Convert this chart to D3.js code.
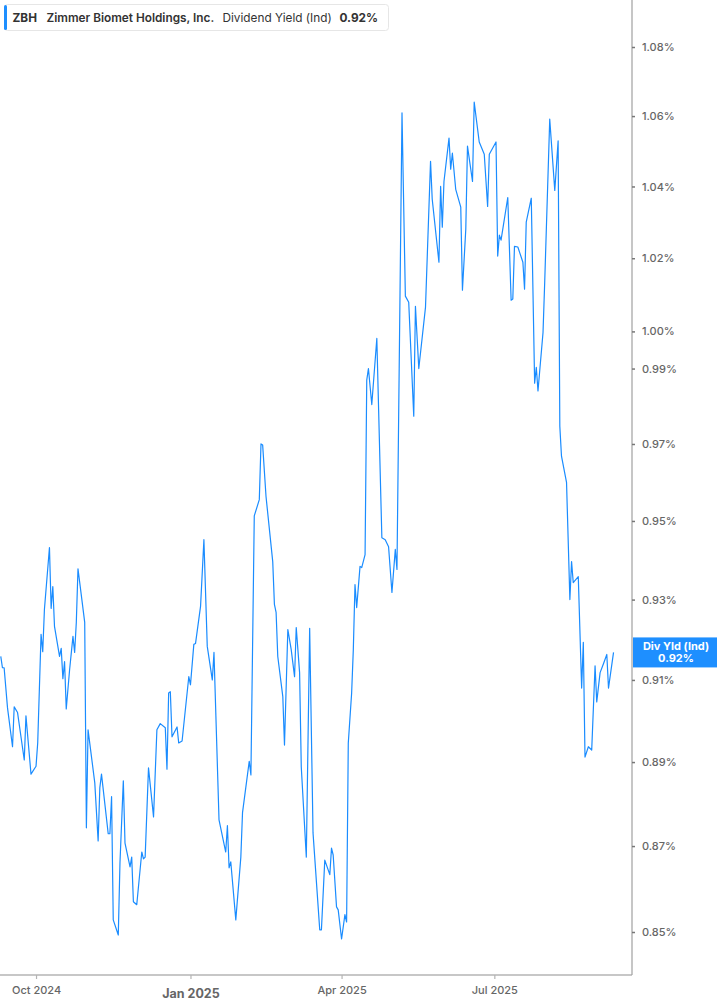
<!DOCTYPE html>
<html>
<head>
<meta charset="utf-8">
<script src="https://cdn.jsdelivr.net/npm/d3@7"></script>
<style>
  html, body { margin: 0; padding: 0; background: #fff; }
  svg { display: block; font-family: Inter, "Noto Sans", sans-serif; }
</style>
</head>
<body>
<div id="viz"></div>
<script>
// ZBH dividend yield (indicated)
var dates = [
  "2024-09-10","2024-09-11","2024-09-12","2024-09-14","2024-09-17","2024-09-18","2024-09-20","2024-09-24","2024-09-25","2024-09-28",
  "2024-10-01","2024-10-02","2024-10-04","2024-10-05","2024-10-06","2024-10-09","2024-10-10","2024-10-11","2024-10-12","2024-10-15",
  "2024-10-16","2024-10-17","2024-10-18","2024-10-19","2024-10-21","2024-10-23","2024-10-24","2024-10-25","2024-10-26","2024-10-30",
  "2024-10-31","2024-11-01","2024-11-05","2024-11-07","2024-11-08","2024-11-09","2024-11-13","2024-11-14","2024-11-15","2024-11-16",
  "2024-11-19","2024-11-20","2024-11-22","2024-11-23","2024-11-26","2024-11-27","2024-11-28","2024-11-30","2024-12-03","2024-12-04",
  "2024-12-05","2024-12-07","2024-12-10","2024-12-12","2024-12-14","2024-12-17","2024-12-18","2024-12-19","2024-12-20","2024-12-21",
  "2024-12-24","2024-12-25","2024-12-27","2024-12-31","2025-01-01","2025-01-03","2025-01-04","2025-01-07","2025-01-09","2025-01-11",
  "2025-01-14","2025-01-15","2025-01-18","2025-01-22","2025-01-23","2025-01-24","2025-01-25","2025-01-28","2025-01-31","2025-02-01",
  "2025-02-05","2025-02-06","2025-02-08","2025-02-11","2025-02-12","2025-02-13","2025-02-15","2025-02-19","2025-02-20","2025-02-21",
  "2025-02-22","2025-02-25","2025-02-26","2025-02-28","2025-03-02","2025-03-04","2025-03-05","2025-03-07","2025-03-08","2025-03-11",
  "2025-03-13","2025-03-15","2025-03-19","2025-03-20","2025-03-22","2025-03-25","2025-03-26","2025-03-27","2025-03-29","2025-03-30",
  "2025-04-01","2025-04-03","2025-04-04","2025-04-05","2025-04-07","2025-04-08","2025-04-09","2025-04-10","2025-04-12","2025-04-13",
  "2025-04-15","2025-04-16","2025-04-17","2025-04-19","2025-04-22","2025-04-25","2025-04-27","2025-04-29","2025-05-01","2025-05-03",
  "2025-05-04","2025-05-07","2025-05-09","2025-05-11","2025-05-14","2025-05-15","2025-05-17","2025-05-21","2025-05-24","2025-05-25",
  "2025-05-29","2025-05-30","2025-05-31","2025-06-01","2025-06-04","2025-06-05","2025-06-06","2025-06-08","2025-06-11","2025-06-12",
  "2025-06-14","2025-06-15","2025-06-18","2025-06-19","2025-06-22","2025-06-25","2025-06-27","2025-06-28","2025-07-02","2025-07-03",
  "2025-07-04","2025-07-05","2025-07-09","2025-07-11","2025-07-12","2025-07-13","2025-07-15","2025-07-16","2025-07-18","2025-07-19",
  "2025-07-20","2025-07-23","2025-07-25","2025-07-26","2025-07-27","2025-07-30","2025-07-31","2025-08-03","2025-08-06","2025-08-08",
  "2025-08-09","2025-08-10","2025-08-13","2025-08-15","2025-08-16","2025-08-17","2025-08-20","2025-08-22","2025-08-23","2025-08-24",
  "2025-08-26","2025-08-28","2025-08-30","2025-08-31","2025-09-02","2025-09-04","2025-09-06","2025-09-07","2025-09-10"
];

var yields = [
  0.9158,0.9130,0.9130,0.9032,0.8937,0.9034,0.9020,0.8905,0.9012,0.8871,
  0.8890,0.8946,0.9213,0.9170,0.9275,0.9432,0.9278,0.9333,0.9233,0.9158,
  0.9178,0.9103,0.9145,0.9029,0.9125,0.9208,0.9168,0.9243,0.9378,0.9243,
  0.8743,0.8978,0.8850,0.8712,0.8838,0.8871,0.8729,0.8729,0.8817,0.8528,
  0.8493,0.8660,0.8855,0.8707,0.8651,0.8674,0.8570,0.8563,0.8686,0.8670,
  0.8674,0.8886,0.8769,0.8978,0.8993,0.8983,0.8883,0.9068,0.9071,0.8961,
  0.8985,0.8946,0.8951,0.9108,0.9088,0.9188,0.9190,0.9283,0.9452,0.9183,
  0.9100,0.9168,0.8762,0.8686,0.8748,0.8649,0.8663,0.8528,0.8674,0.8779,
  0.8902,0.8869,0.9513,0.9555,0.9700,0.9697,0.9563,0.9396,0.9288,0.9268,
  0.9158,0.9059,0.8941,0.9225,0.9175,0.9108,0.9230,0.9118,0.8888,0.8674,
  0.9228,0.8731,0.8505,0.8505,0.8667,0.8633,0.8695,0.8679,0.8558,0.8551,
  0.8484,0.8540,0.8523,0.8946,0.9068,0.9175,0.9338,0.9280,0.9384,0.9381,
  0.9414,0.9869,0.9900,0.9804,0.9981,0.9457,0.9452,0.9434,0.9318,0.9427,
  0.9376,1.0609,1.0096,1.0079,0.9773,1.0068,0.9900,1.0066,1.0471,1.0364,
  1.0189,1.0400,1.0286,1.0414,1.0537,1.0449,1.0494,1.0392,1.0342,1.0112,
  1.0281,1.0514,1.0414,1.0640,1.0526,1.0491,1.0344,1.0491,1.0526,1.0206,
  1.0264,1.0250,1.0369,1.0085,1.0088,1.0233,1.0231,1.0217,1.0189,1.0115,
  1.0300,1.0367,0.9861,0.9903,0.9840,0.9997,1.0134,1.0591,1.0389,1.0529,
  0.9747,0.9668,0.9600,0.9300,0.9396,0.9343,0.9358,0.9080,0.9193,0.8912,
  0.8937,0.8929,0.9135,0.9046,0.9118,0.9140,0.9163,0.9080,0.9168
];

var yTicks = [0.85, 0.87, 0.89, 0.91, 0.93, 0.95, 0.97, 0.99, 1.00, 1.02, 1.04, 1.06, 1.08];
var xTicks = ["2024-10-01", "2025-01-01", "2025-04-01", "2025-07-01"];

var width = 717, height = 1005;
var plotRight = 632, plotBottom = 975;
var parse = d3.timeParse("%Y-%m-%d");

var data = dates.map(function (d, i) { return { date: parse(d), value: yields[i] }; });

var svg = d3.select("#viz").append("svg")
  .attr("width", width)
  .attr("height", height);

var x = d3.scaleTime()
  .domain([new Date(2024, 8, 9, 13), new Date(2025, 8, 21)])
  .range([0, plotRight]);

var y = d3.scaleLog()
  .domain([0.85, 1.08])
  .range([932, 47]);

// axes
var xAxis = svg.append("g")
  .attr("transform", "translate(0," + plotBottom + ")")
  .call(d3.axisBottom(x)
    .tickValues(xTicks.map(parse))
    .tickSize(4)
    .tickPadding(6)
    .tickFormat(d3.timeFormat("%b %Y")));
xAxis.select(".domain").attr("d", "M0,0H" + plotRight).attr("stroke", "#b4b4b4").attr("stroke-width", 1.5);
xAxis.selectAll(".tick line").attr("stroke", "#b4b4b4").attr("stroke-width", 1.2);
xAxis.selectAll(".tick text")
  .attr("fill", "#666")
  .style("font-family", "Inter, sans-serif")
  .style("font-size", function (d) { return d.getMonth() === 0 ? "12.5px" : "11px"; })
  .style("font-weight", function (d) { return d.getMonth() === 0 ? 700 : 500; })
  .attr("dy", function (d) { return d.getMonth() === 0 ? "1em" : "0.8em"; });

var yAxis = svg.append("g")
  .attr("transform", "translate(" + plotRight + ",0)")
  .call(d3.axisRight(y)
    .tickValues(yTicks)
    .tickSize(3)
    .tickPadding(7)
    .tickFormat(function (d) { return d3.format(".2f")(d) + "%"; }));
yAxis.select(".domain").attr("d", "M0,0V" + plotBottom).attr("stroke", "#a0a0a0").attr("stroke-width", 1.2);
yAxis.selectAll(".tick line").attr("stroke", "#777").attr("stroke-width", 1.5);
yAxis.selectAll(".tick text")
  .attr("fill", "#666")
  .style("font-family", "Inter, sans-serif")
  .style("font-size", "11px")
  .style("font-weight", 500);

// the series
var line = d3.line()
  .x(function (d) { return x(d.date); })
  .y(function (d) { return y(d.value); });

svg.append("path")
  .datum(data)
  .attr("fill", "none")
  .attr("stroke", "#1a8cff")
  .attr("stroke-width", 1.2)
  .attr("stroke-linejoin", "round")
  .attr("d", line);

// last value tag on the right axis
var last = data[data.length - 1];
var tag = svg.append("g").attr("transform", "translate(" + (plotRight + 1) + "," + y(last.value) + ")");
tag.append("rect")
  .attr("x", 0).attr("y", -15)
  .attr("width", width - plotRight).attr("height", 30)
  .attr("fill", "#1e8fff");
tag.append("text")
  .attr("x", 43).attr("y", -2.5)
  .attr("text-anchor", "middle")
  .attr("fill", "#fff")
  .style("font-size", "11px").style("font-weight", 700)
  .text("Div Yld (Ind)");
tag.append("text")
  .attr("x", 43).attr("y", 9.5)
  .attr("text-anchor", "middle")
  .attr("fill", "#fff")
  .style("font-size", "11px").style("font-weight", 700)
  .text(d3.format(".2f")(last.value) + "%");

// legend box
var legend = svg.append("g");
legend.append("rect")
  .attr("x", 4.5).attr("y", 4.5)
  .attr("width", 384).attr("height", 26)
  .attr("rx", 3)
  .attr("fill", "#fff")
  .attr("stroke", "#e6e6e6");
legend.append("rect")
  .attr("x", 4).attr("y", 5)
  .attr("width", 3).attr("height", 25)
  .attr("rx", 1.5)
  .attr("fill", "#1e8fff");
legend.append("text").attr("x", 12.5).attr("y", 21.5)
  .attr("fill", "#333").style("font-size", "11.8px").style("font-weight", 700)
  .text("ZBH");
legend.append("text").attr("x", 46.5).attr("y", 21.5)
  .attr("fill", "#333").style("font-size", "11.8px").style("font-weight", 600)
  .text("Zimmer Biomet Holdings, Inc.");
legend.append("text").attr("x", 222.5).attr("y", 21.5)
  .attr("fill", "#333").style("font-size", "11.8px").style("font-weight", 400)
  .text("Dividend Yield (Ind)");
legend.append("text").attr("x", 339.5).attr("y", 21.5)
  .attr("fill", "#333").style("font-size", "11.8px").style("font-weight", 700)
  .text(d3.format(".2f")(last.value) + "%");
</script>
</body>
</html>
